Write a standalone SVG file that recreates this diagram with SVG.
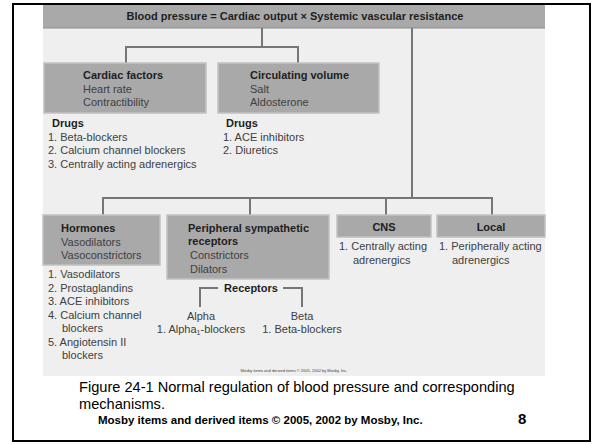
<svg xmlns="http://www.w3.org/2000/svg" width="603" height="444" viewBox="0 0 603 444">
<style>
.t{font-family:"Liberation Sans",Arial,sans-serif;font-size:11px;fill:#404040}
.b{font-weight:bold;fill:#1e1e1e}
.box{fill:#a9a9a9;stroke:#c2c2c2;stroke-width:1.5}
.ln{fill:none;stroke:#767676;stroke-width:2}
.cap{font-family:"Liberation Sans",Arial,sans-serif;fill:#000}
</style>
<rect x="0" y="0" width="603" height="444" fill="#fff"/>
<rect x="43" y="4" width="502" height="372" fill="#efefef"/>
<g id="top">
<rect x="43" y="4" width="502" height="24" fill="#a9a9a9"/>
<line x1="43" y1="28" x2="545" y2="28" stroke="#8c8c8c" stroke-width="1"/>
<text class="t b" x="295" y="19.5" text-anchor="middle">Blood pressure = Cardiac output × Systemic vascular resistance</text>
</g>
<g id="connectors">
<path class="ln" d="M262 28V47M126 63V47H298V63"/>
<path class="ln" d="M412 28V198M103 215V198H492V215M250 198V215M386 198V215"/>
<path class="ln" d="M200 307V288H218M283 288H302V307"/>
</g>
<g id="cardiac">
<rect class="box" x="44" y="63" width="162" height="50"/>
<text class="t b" x="83" y="79">Cardiac factors</text>
<text class="t" x="83" y="92.5">Heart rate</text>
<text class="t" x="83" y="106">Contractibility</text>
<text class="t b" x="52" y="127">Drugs</text>
<text class="t" x="48" y="140.5">1. Beta-blockers</text>
<text class="t" x="48" y="154">2. Calcium channel blockers</text>
<text class="t" x="48" y="167.5">3. Centrally acting adrenergics</text>
</g>
<g id="volume">
<rect class="box" x="218" y="63" width="161" height="50"/>
<text class="t b" x="250" y="79">Circulating volume</text>
<text class="t" x="250" y="92.5">Salt</text>
<text class="t" x="250" y="106">Aldosterone</text>
<text class="t b" x="226" y="127">Drugs</text>
<text class="t" x="223" y="140.5">1. ACE inhibitors</text>
<text class="t" x="223" y="154">2. Diuretics</text>
</g>
<g id="hormones">
<rect class="box" x="43" y="215" width="117" height="50"/>
<text class="t b" x="61" y="232">Hormones</text>
<text class="t" x="61" y="245.5">Vasodilators</text>
<text class="t" x="61" y="259">Vasoconstrictors</text>
<text class="t" x="48" y="278">1. Vasodilators</text>
<text class="t" x="48" y="291.5">2. Prostaglandins</text>
<text class="t" x="48" y="305">3. ACE inhibitors</text>
<text class="t" x="48" y="318.5">4. Calcium channel</text>
<text class="t" x="62" y="332">blockers</text>
<text class="t" x="48" y="345.5">5. Angiotensin II</text>
<text class="t" x="62" y="359">blockers</text>
</g>
<g id="peripheral">
<rect class="box" x="167" y="215" width="162" height="64"/>
<text class="t b" x="188" y="232">Peripheral sympathetic</text>
<text class="t b" x="188" y="245">receptors</text>
<text class="t" x="190" y="259">Constrictors</text>
<text class="t" x="190" y="272.5">Dilators</text>
</g>
<g id="receptors">
<text class="t b" x="251" y="292" text-anchor="middle">Receptors</text>
<text class="t" x="201" y="320" text-anchor="middle">Alpha</text>
<text class="t" x="201" y="333" text-anchor="middle">1. Alpha<tspan style="font-size:7px" dy="2">1</tspan><tspan dy="-2">-blockers</tspan></text>
<text class="t" x="302" y="320" text-anchor="middle">Beta</text>
<text class="t" x="302" y="333" text-anchor="middle">1. Beta-blockers</text>
</g>
<g id="cns">
<rect class="box" x="337" y="215" width="94" height="22"/>
<text class="t b" x="384" y="231" text-anchor="middle">CNS</text>
<text class="t" x="339" y="250">1. Centrally acting</text>
<text class="t" x="353" y="263.5">adrenergics</text>
</g>
<g id="local">
<rect class="box" x="437" y="215" width="108" height="22"/>
<text class="t b" x="491" y="231" text-anchor="middle">Local</text>
<text class="t" x="439" y="250">1. Peripherally acting</text>
<text class="t" x="452" y="263.5">adrenergics</text>
</g>
<text class="t" x="294" y="372" text-anchor="middle" style="font-size:4px">Mosby items and derived items © 2005, 2002 by Mosby, Inc.</text>
<text class="cap" x="79" y="392" font-size="14.6">Figure 24-1 Normal regulation of blood pressure and corresponding</text>
<text class="cap" x="79" y="408.5" font-size="14.6">mechanisms.</text>
<text class="cap" x="98" y="423.5" font-size="11.5" font-weight="bold">Mosby items and derived items © 2005, 2002 by Mosby, Inc.</text>
<text class="cap" x="518" y="424" font-size="15" font-weight="bold">8</text>
<rect x="13" y="4" width="577" height="437" fill="none" stroke="#000" stroke-width="2"/>
</svg>
